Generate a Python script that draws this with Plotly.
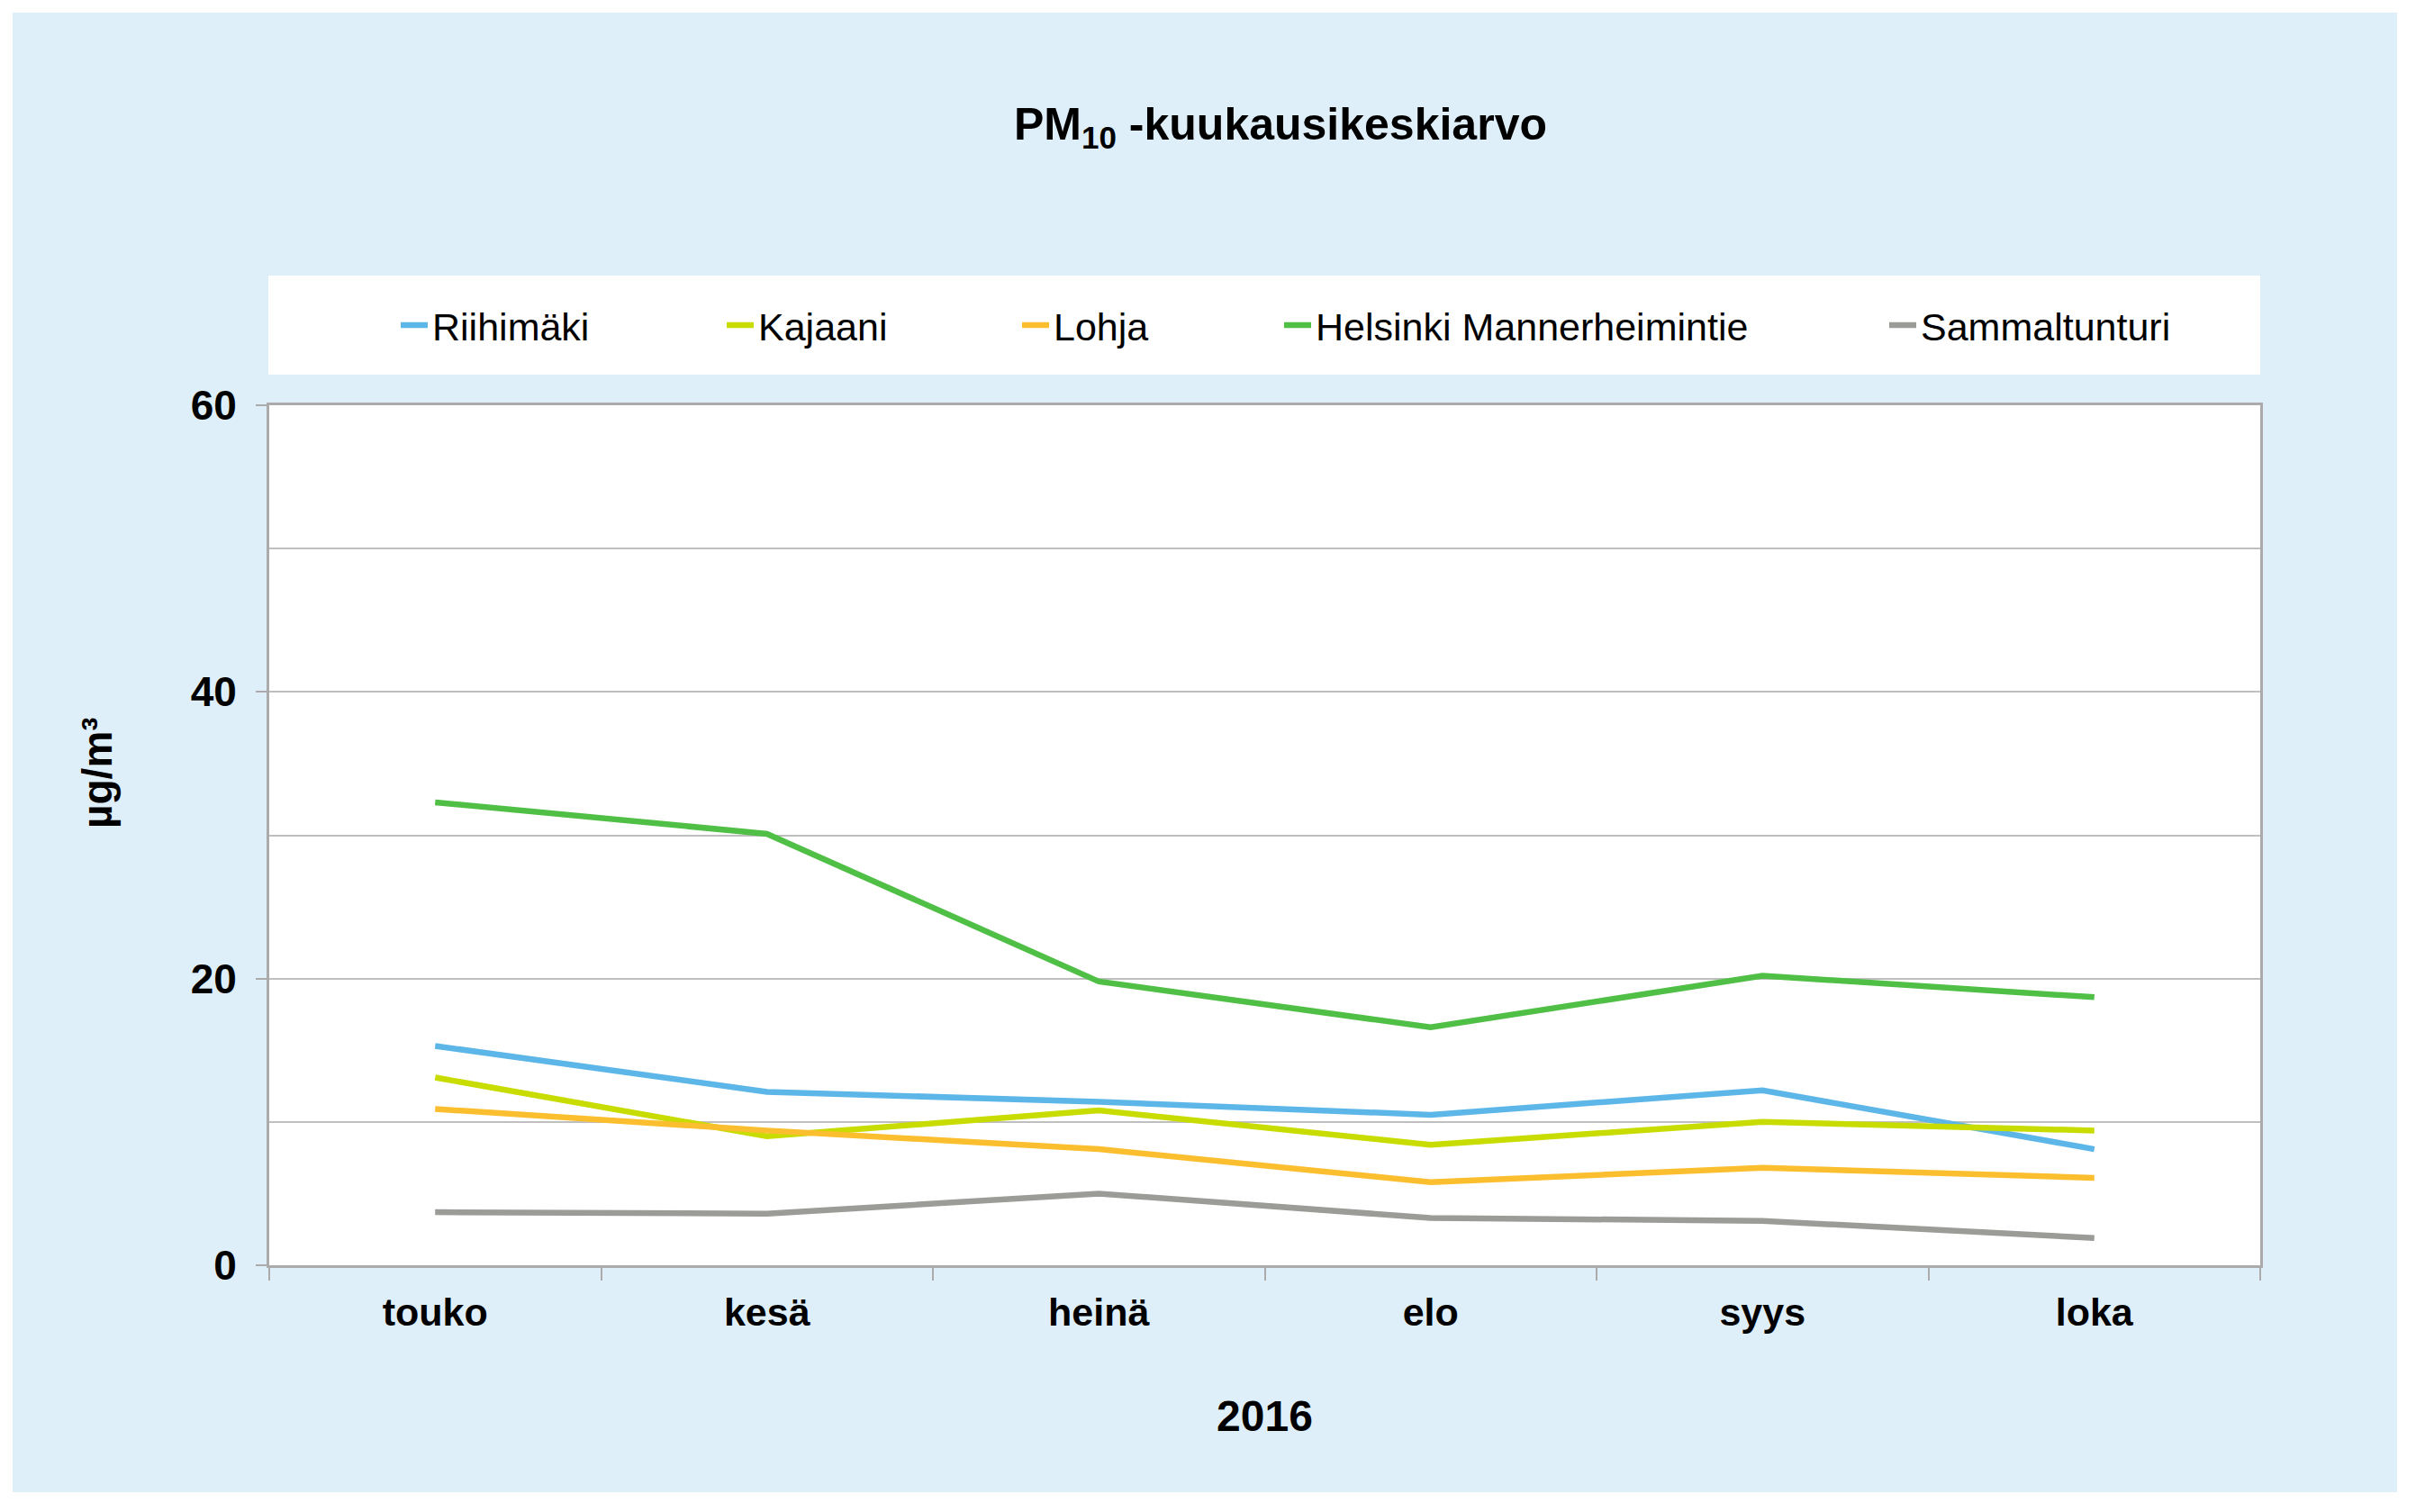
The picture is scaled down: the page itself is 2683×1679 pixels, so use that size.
import plotly.graph_objects as go

months = ["touko", "kesä", "heinä", "elo", "syys", "loka"]
series_names = ["Riihimäki", "Kajaani", "Lohja", "Helsinki Mannerheimintie", "Sammaltunturi"]
riihimaki = [15.3, 12.1, 11.4, 10.5, 12.2, 8.1]
kajaani = [13.1, 9.0, 10.8, 8.4, 10.0, 9.4]
lohja = [10.9, 9.4, 8.1, 5.8, 6.8, 6.1]
helsinki = [32.3, 30.1, 19.8, 16.6, 20.2, 18.7]
sammaltunturi = [3.7, 3.6, 5.0, 3.3, 3.1, 1.9]
colors = ["#5DB6E8", "#C8DC00", "#FBBE2E", "#50BF46", "#9B9B98"]
y_ticks = [0, 20, 40, 60]

# the page body has an 8px margin, so work in page pixels and shift
OFF = 8
W, H = 2683 - OFF, 1679 - OFF
L, R, T, B = 299 - OFF, 2510 - OFF, 450 - OFF, 1405 - OFF
PW, PH = R - L, B - T


def px(x):
    return (x - OFF - L) / PW


def py(y):
    return (B - (y - OFF)) / PH


FONT = "Liberation Sans, Arial, sans-serif"

fig = go.Figure()
values = [riihimaki, kajaani, lohja, helsinki, sammaltunturi]
legend_text_x = [482, 844, 1172, 1463, 2135]
for i, (name, vals, col) in enumerate(zip(series_names, values, colors)):
    lg = "legend" if i == 0 else f"legend{i + 1}"
    fig.add_trace(go.Scatter(
        x=months, y=vals, name=name, mode="lines",
        line=dict(color=col, width=6.5),
        legend=lg,
    ))

layout_legends = {}
for i in range(5):
    key = "legend" if i == 0 else f"legend{i + 1}"
    layout_legends[key] = dict(
        x=px(legend_text_x[i] - 42), xanchor="left",
        y=py(361), yanchor="middle",
        bgcolor="rgba(0,0,0,0)", borderwidth=0,
        font=dict(family=FONT, size=43, color="#000000"),
        orientation="h",
    )

shapes = [
    # light blue chart background
    dict(type="rect", xref="paper", yref="paper", layer="below",
         x0=px(14), x1=px(2662), y0=py(1657), y1=py(14),
         fillcolor="#DFEFFA", line=dict(width=0)),
    # white plot area
    dict(type="rect", xref="paper", yref="paper", layer="below",
         x0=0, x1=1, y0=0, y1=1,
         fillcolor="#FFFFFF", line=dict(width=0)),
    # white legend box
    dict(type="rect", xref="paper", yref="paper", layer="below",
         x0=px(298), x1=px(2510), y0=py(416), y1=py(306),
         fillcolor="#FFFFFF", line=dict(width=0)),
]

fig.update_layout(
    width=W, height=H, autosize=False,
    margin=dict(l=L, r=W - R, t=T, b=H - B),
    paper_bgcolor="#FFFFFF", plot_bgcolor="#FFFFFF",
    font=dict(family=FONT, color="#000000"),
    title=dict(
        text="<b>PM<sub>10</sub> -kuukausikeskiarvo</b>",
        x=(1422 - OFF) / W, xanchor="center", xref="container",
        y=1 - (137 - OFF) / H, yanchor="middle", yref="container",
        font=dict(family=FONT, size=50, color="#000000"),
    ),
    shapes=shapes,
    showlegend=True,
    **layout_legends,
    annotations=[dict(
        text="<b>µg/m³</b>", textangle=-90,
        xref="paper", yref="paper", x=px(108), y=py(858),
        xanchor="center", yanchor="middle", showarrow=False,
        font=dict(family=FONT, size=46, color="#000000"),
    )],
)

fig.update_xaxes(
    type="category", range=[-0.5, 5.5],
    showline=True, linecolor="#ABABAB", linewidth=3, mirror=True,
    ticks="outside", tickson="boundaries", ticklen=14, tickwidth=2, tickcolor="#ABABAB",
    tickfont=dict(family=FONT, size=43, color="#000000", weight="bold"),
    ticklabelstandoff=12,
    showgrid=False, zeroline=False,
    title=dict(text="<b>2016</b>", font=dict(family=FONT, size=48, color="#000000"), standoff=76),
)
fig.update_yaxes(
    range=[0, 60], tickvals=y_ticks,
    showline=True, linecolor="#ABABAB", linewidth=3, mirror=True,
    ticks="outside", ticklen=12, tickwidth=2, tickcolor="#ABABAB",
    tickfont=dict(family=FONT, size=46, color="#000000", weight="bold"),
    ticklabelstandoff=12,
    showgrid=True, gridcolor="#BFBFBF", gridwidth=2,
    minor=dict(dtick=10, showgrid=True, gridcolor="#BFBFBF", gridwidth=2, ticks=""),
    zeroline=False,
)

fig.write_html("out.html")
